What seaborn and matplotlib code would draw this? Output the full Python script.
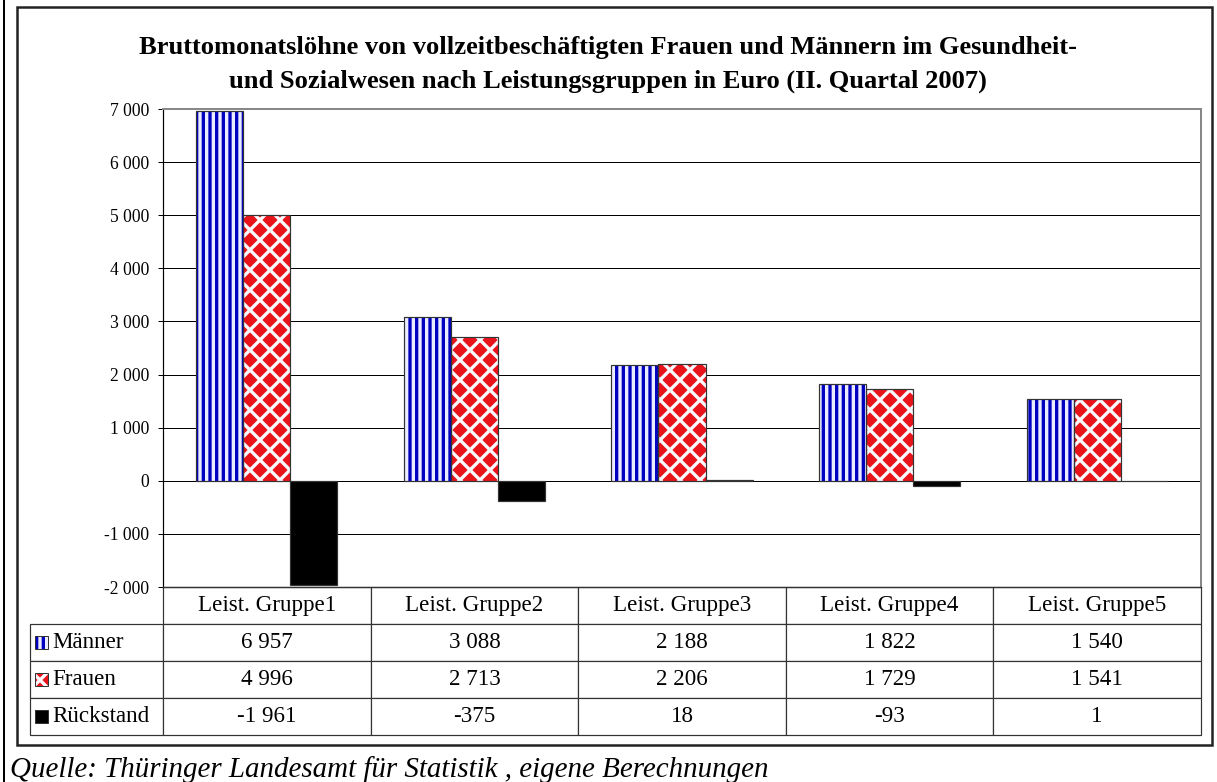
import numpy as np
import pandas as pd
import matplotlib
matplotlib.use('Agg')
import matplotlib.pyplot as plt
from matplotlib.patches import Rectangle
from matplotlib.lines import Line2D
import seaborn as sns

# data
categories = ['Leist. Gruppe1', 'Leist. Gruppe2', 'Leist. Gruppe3', 'Leist. Gruppe4', 'Leist. Gruppe5']
series = ['Männer', 'Frauen', 'Rückstand']
maenner = [6957, 3088, 2188, 1822, 1540]
frauen = [4996, 2713, 2206, 1729, 1541]
rueckstand = [-1961, -375, 18, -93, 1]
y_ticks = [-2000, -1000, 0, 1000, 2000, 3000, 4000, 5000, 6000, 7000]

title = ('Bruttomonatslöhne von vollzeitbeschäftigten Frauen und Männern im Gesundheit-\n'
         'und Sozialwesen nach Leistungsgruppen in Euro (II. Quartal 2007)')
source = 'Quelle: Thüringer Landesamt für Statistik , eigene Berechnungen'

DPI = 120
W, H = 1217, 782


def px(v):
    # pixels -> points at this dpi
    return v * 72 / DPI


def fmt(v):
    return f'{v:,}'.replace(',', ' ')


plt.rcParams['font.family'] = ['Liberation Serif', 'DejaVu Serif']
plt.rcParams['hatch.linewidth'] = px(3.3)

df = pd.DataFrame({
    'Gruppe': categories * 3,
    'Serie': np.repeat(series, len(categories)),
    'Wert': maenner + frauen + rueckstand,
})

face = {'Männer': '#ececff', 'Frauen': '#e8141c', 'Rückstand': 'black'}
hatch = {'Männer': '|||', 'Frauen': 'xx', 'Rückstand': None}
hatch_col = {'Männer': '#0000c0', 'Frauen': '#fbfbff', 'Rückstand': 'black'}

fig = plt.figure(figsize=(W / DPI, H / DPI), dpi=DPI)

# frame around the chart + page line on the left
fig.patches.append(Rectangle((17 / W, 1 - 745 / H), (1212 - 17) / W, (745 - 7) / H,
                             transform=fig.transFigure, fill=False, ec='#222222', lw=px(2.5)))
fig.add_artist(Line2D([4 / W, 4 / W], [0, 1], color='black', lw=px(2)))

# plot area in pixels: x 163..1201, y 109..587
AX_L, AX_R, AX_T, AX_B = 163, 1201, 109, 587
AW, AH = AX_R - AX_L, AX_B - AX_T
ax = fig.add_axes([AX_L / W, 1 - AX_B / H, AW / W, AH / H])

sns.barplot(data=df, x='Gruppe', y='Wert', hue='Serie', order=categories, hue_order=series,
            palette=face, width=0.68, saturation=1, errorbar=None, legend=False, ax=ax)

for serie, bars in zip(series, ax.containers):
    for b in bars:
        b.set_hatch(hatch[serie])
        b.set_edgecolor(hatch_col[serie])
        b.set_linewidth(0)
        ax.add_patch(Rectangle(b.get_xy(), b.get_width(), b.get_height(), fill=False,
                               ec='#333333', lw=px(1.2), zorder=b.get_zorder() + 0.1))

ax.set_xlim(-0.5, len(categories) - 0.5)
ax.set_ylim(-2000, 7000)
ax.set_yticks(y_ticks)
ax.set_yticklabels([fmt(v) for v in y_ticks], fontsize=px(17.5))
ax.set_xticks([])
ax.set_xlabel('')
ax.set_ylabel('')
ax.yaxis.grid(True, color='black', lw=px(1))
ax.set_axisbelow(True)
ax.tick_params(axis='y', direction='out', length=px(5), width=px(1), pad=px(9))
ax.spines['left'].set_color('black')
ax.spines['left'].set_linewidth(px(1.2))
for s in ['top', 'right']:
    ax.spines[s].set_color('#888888')
    ax.spines[s].set_linewidth(px(2))
ax.spines['bottom'].set_color('#333333')

# data table below the axis
lab_w = (AX_L - 30) / AW
tab_h = (735 - AX_B) / AH
cell_text = [[lab] + [fmt(v) for v in vals]
             for lab, vals in zip(series, [maenner, frauen, rueckstand])]
tbl = ax.table(cellText=cell_text, colLabels=[''] + categories, cellLoc='center', colLoc='center',
               colWidths=[lab_w] + [1 / len(categories)] * len(categories),
               bbox=[-lab_w, -tab_h, 1 + lab_w, tab_h])
tbl.auto_set_font_size(False)
tbl.set_fontsize(px(23))
for (r, c), cell in tbl.get_celld().items():
    cell.set_edgecolor('#333333')
    cell.set_linewidth(px(1.2))
    if c == 0:
        cell.get_text().set_horizontalalignment('left')
        cell.PAD = 0.17
tbl[0, 0].set_visible(False)

# small legend keys in front of the row labels
row_h = (735 - AX_B) / 4
for i, serie in enumerate(series):
    yc = AX_B + row_h * (i + 1.5)
    ax.add_patch(Rectangle(((35 - AX_L) / AW, (AX_B - yc - 6.5) / AH), 13 / AW, 13 / AH,
                           transform=ax.transAxes, clip_on=False, facecolor=face[serie],
                           hatch=hatch[serie], edgecolor=hatch_col[serie], lw=0))
    ax.add_patch(Rectangle(((35 - AX_L) / AW, (AX_B - yc - 6.5) / AH), 13 / AW, 13 / AH,
                           transform=ax.transAxes, clip_on=False, fill=False,
                           edgecolor='#333333', lw=px(1)))

fig.text(608 / W, 1 - 64.5 / H, title, ha='center', va='center', fontweight='bold',
         fontsize=px(26.5), linespacing=1.55)
fig.text(10 / W, 1 - 770 / H, source, ha='left', va='center', style='italic', fontsize=px(29))

fig.savefig('out.png', dpi=DPI)
